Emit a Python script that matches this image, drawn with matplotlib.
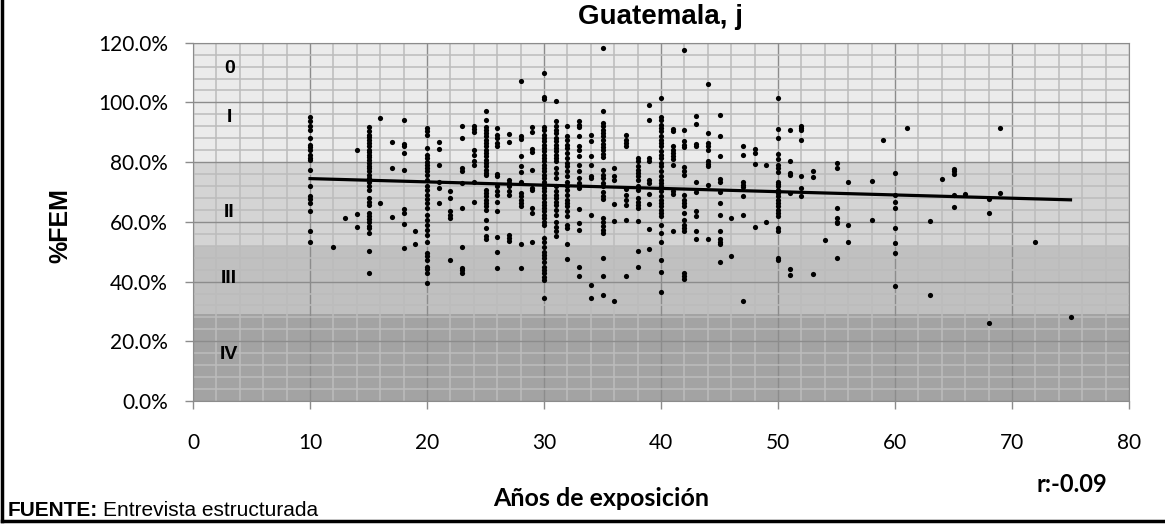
import numpy as np
import matplotlib.pyplot as plt
from matplotlib.ticker import MultipleLocator, FuncFormatter

# %FEM por años de exposición (cada lista = una columna de puntos)
years = [10, 12, 13, 14, 15, 16, 17, 18, 19, 20, 21, 22, 23, 24, 25, 26, 27, 28, 29, 30,
         31, 32, 33, 34, 35, 36, 37, 38, 39, 40, 41, 42, 43, 44, 45, 46, 47, 48, 49, 50,
         51, 52, 53, 54, 55, 56, 58, 59, 60, 61, 63, 64, 65, 66, 68, 69, 72, 75]

fem_10 = [95.0, 93.7, 92.2, 90.9, 88.1, 85.9, 85.1, 84.2, 82.5, 81.4, 80.6, 77.5, 72.1, 68.7, 67.6, 66.3, 63.5, 56.8, 53.1]
fem_12 = [51.5]
fem_13 = [61.2]
fem_14 = [84.2, 62.7, 58.2]
fem_15 = [91.8, 90.3, 89.2, 88.4, 87.5, 86.4, 85.3, 84.2, 83.3, 82.5, 81.7, 80.8, 79.7, 78.8, 78.0, 76.9, 75.8,
          74.7, 73.5, 71.9, 70.7, 67.9, 66.8, 65.7, 62.9, 62.0, 60.9, 59.8, 58.7, 57.9, 56.2, 50.4, 43.0]
fem_16 = [94.8, 66.3]
fem_17 = [86.7, 78.2, 61.5]
fem_18 = [94.2, 86.1, 85.3, 83.1, 77.5, 64.3, 63.1, 59.2, 51.2]
fem_19 = [56.8, 52.6]
fem_20 = [91.4, 90.3, 89.2, 84.7, 82.5, 81.4, 80.2, 79.1, 78.0, 76.9, 75.8, 74.1, 71.9, 70.7, 69.1, 67.6,
          66.3, 64.6, 62.4, 60.7, 59.0, 57.3, 55.6, 53.1, 49.5, 48.4, 47.3, 45.0, 44.1, 42.8, 39.4]
fem_21 = [86.6, 84.4, 79.1, 73.5, 71.3, 66.3]
fem_22 = [70.2, 68.0, 63.5, 62.4, 61.2, 47.3]
fem_23 = [92.2, 88.0, 78.0, 76.9, 73.0, 64.6, 51.5, 44.7, 43.9, 43.0]
fem_24 = [92.2, 91.1, 90.0, 84.2, 82.5, 80.3, 79.1, 73.5, 66.5]
fem_25 = [97.0, 94.0, 91.8, 90.9, 89.8, 88.7, 87.5, 86.4, 85.3, 84.2, 83.1, 81.9, 80.8, 79.7, 78.6, 77.5,
          76.4, 75.8, 70.7, 69.6, 68.5, 67.4, 66.3, 65.2, 64.0, 60.7, 57.9, 55.1, 54.2]
fem_26 = [91.4, 89.2, 88.1, 86.4, 85.3, 76.1, 75.2, 71.9, 70.2, 69.1, 66.8, 63.8, 54.9, 50.0, 44.4]
fem_27 = [89.4, 86.6, 74.1, 73.0, 71.9, 70.2, 69.1, 55.6, 54.5, 53.7]
fem_28 = [107.1, 88.9, 87.8, 82.2, 78.8, 76.6, 73.2, 69.6, 68.5, 67.4, 66.3, 65.2, 52.6, 44.4]
fem_29 = [91.8, 90.0, 84.4, 83.3, 77.5, 71.3, 70.5, 64.6, 63.1, 53.4]
fem_30 = [109.7, 101.9, 101.0, 91.8, 90.9, 89.2, 88.1, 87.0, 85.9, 84.7, 83.6, 82.5, 81.4, 80.3, 79.1, 78.0,
          76.9, 75.8, 74.7, 73.5, 72.4, 71.3, 70.2, 69.1, 67.9, 66.8, 65.7, 64.6, 63.5, 62.4, 61.2, 60.1,
          59.0, 54.5, 53.4, 51.7, 50.0, 48.9, 47.8, 46.7, 45.0, 43.9, 42.8, 41.4, 40.5, 34.4]
fem_31 = [100.6, 93.7, 92.0, 90.9, 89.8, 88.1, 87.0, 85.9, 84.7, 83.6, 82.5, 81.4, 80.3, 78.0, 76.4, 74.7,
          71.9, 70.2, 69.1, 67.9, 66.8, 65.7, 64.0, 62.4, 60.1, 58.2, 56.8, 55.3]
fem_32 = [92.2, 88.7, 87.5, 85.9, 84.7, 83.1, 81.4, 79.7, 78.6, 76.9, 75.2, 73.5, 71.9, 70.7, 69.1, 67.4,
          66.3, 65.2, 63.5, 61.8, 59.0, 57.9, 52.6, 47.7]
fem_33 = [93.7, 92.6, 91.8, 88.9, 85.3, 84.2, 81.9, 79.1, 76.9, 74.7, 73.0, 71.3, 64.3, 59.6, 57.3, 45.0, 41.7]
fem_34 = [89.0, 87.0, 82.2, 79.1, 75.4, 74.7, 62.4, 38.9, 34.4]
fem_35 = [118.3, 97.0, 93.1, 92.0, 90.9, 89.8, 88.7, 87.5, 86.2, 85.1, 83.9, 82.8, 81.7, 77.5, 75.8, 74.7,
          73.0, 71.9, 69.9, 68.7, 67.6, 61.2, 59.8, 58.5, 57.3, 56.2, 47.8, 41.7, 35.5]
fem_36 = [78.0, 75.2, 74.1, 66.0, 60.4, 33.6]
fem_37 = [89.2, 87.5, 86.4, 85.5, 71.0, 69.1, 67.4, 65.7, 60.7, 41.7]
fem_38 = [81.4, 80.3, 78.6, 77.5, 76.4, 75.2, 74.1, 71.9, 70.7, 67.9, 66.8, 65.7, 64.6, 60.3, 50.4, 45.0]
fem_39 = [99.0, 94.2, 81.4, 80.3, 74.1, 73.0, 69.4, 66.0, 57.5, 50.8]
fem_40 = [101.5, 95.1, 94.0, 92.6, 91.4, 90.3, 88.7, 87.5, 86.4, 85.3, 83.6, 82.5, 81.4, 79.7, 78.6, 76.9,
          75.2, 74.1, 73.0, 71.9, 70.2, 68.5, 67.4, 66.3, 65.2, 64.0, 62.9, 61.8, 59.0, 56.2, 53.4, 47.3,
          43.3, 36.6]
fem_41 = [91.1, 90.3, 85.3, 84.2, 83.1, 81.9, 81.1, 79.1, 70.2, 69.4, 56.8]
fem_42 = [117.5, 90.7, 87.0, 85.9, 85.1, 78.4, 76.9, 75.8, 69.1, 67.4, 66.3, 65.2, 62.9, 60.7, 59.0, 57.9,
          57.1, 43.0, 41.9, 40.8]
fem_43 = [95.6, 92.9, 86.2, 85.5, 73.2, 69.9, 63.5, 62.0, 56.8, 54.2]
fem_44 = [106.3, 89.8, 86.4, 85.3, 84.2, 80.3, 79.5, 78.6, 72.4, 54.3]
fem_45 = [95.9, 88.7, 82.2, 74.3, 73.5, 69.9, 66.3, 62.4, 57.1, 54.2, 53.4, 52.6, 46.4]
fem_46 = [61.2, 48.6]
fem_47 = [85.5, 82.5, 73.2, 72.4, 71.6, 68.5, 62.4, 33.5]
fem_48 = [84.4, 83.1, 79.5, 58.2]
fem_49 = [78.9, 60.1]
fem_50 = [101.5, 91.1, 88.1, 82.8, 81.0, 79.1, 78.0, 76.6, 73.5, 72.8, 71.9, 70.7, 69.6, 68.5, 67.4, 66.3,
          65.2, 64.0, 62.9, 61.8, 57.9, 56.8, 47.8, 47.3]
fem_51 = [90.9, 80.5, 76.3, 75.8, 69.6, 44.1, 42.2]
fem_52 = [92.2, 91.4, 90.9, 87.3, 75.2, 71.3, 68.5]
fem_53 = [76.9, 75.0, 42.4]
fem_54 = [53.9]
fem_55 = [79.7, 78.0, 64.6, 61.2, 60.1, 59.6, 47.8]
fem_56 = [73.2, 59.0, 53.4]
fem_58 = [73.8, 60.7]
fem_59 = [87.3]
fem_60 = [76.3, 69.1, 66.8, 64.6, 57.9, 52.9, 49.7, 38.6]
fem_61 = [91.4]
fem_63 = [60.4, 35.4]
fem_64 = [74.4]
fem_65 = [77.7, 76.9, 76.1, 69.1, 64.9]
fem_66 = [69.4]
fem_68 = [67.6, 63.1, 26.2]
fem_69 = [91.4, 69.6]
fem_72 = [53.1]
fem_75 = [28.0]

columns = [fem_10, fem_12, fem_13, fem_14, fem_15, fem_16, fem_17, fem_18, fem_19, fem_20, fem_21, fem_22,
           fem_23, fem_24, fem_25, fem_26, fem_27, fem_28, fem_29, fem_30, fem_31, fem_32, fem_33, fem_34,
           fem_35, fem_36, fem_37, fem_38, fem_39, fem_40, fem_41, fem_42, fem_43, fem_44, fem_45, fem_46,
           fem_47, fem_48, fem_49, fem_50, fem_51, fem_52, fem_53, fem_54, fem_55, fem_56, fem_58, fem_59,
           fem_60, fem_61, fem_63, fem_64, fem_65, fem_66, fem_68, fem_69, fem_72, fem_75]

# bandas de clasificación (límites en %)
band_names = ['0', 'I', 'II', 'III', 'IV']
band_top = [120, 100, 80, 52, 29]
band_bottom = [100, 80, 52, 29, 0]
band_colors = ['#ebebeb', '#ebebeb', '#d4d4d4', '#c0c0c0', '#a3a3a3']
band_label_y = [111.5, 95, 63, 41, 15.5]

r_text = 'r:-0.09'

x = np.concatenate([[yr] * len(c) for yr, c in zip(years, columns)])
y = np.concatenate(columns)

fig = plt.figure(figsize=(11.65, 5.25), dpi=100)
ax = fig.add_axes([193 / 1165, 1 - 401 / 525, (1129 - 193) / 1165, (401 - 42.7) / 525])

for top, bot, col in zip(band_top, band_bottom, band_colors):
    ax.axhspan(bot, top, color=col, lw=0, zorder=0)

ax.xaxis.set_minor_locator(MultipleLocator(2))
ax.yaxis.set_minor_locator(MultipleLocator(4))
ax.xaxis.set_major_locator(MultipleLocator(10))
ax.yaxis.set_major_locator(MultipleLocator(20))
ax.grid(which='minor', color='#bcbcbc', lw=1.1, zorder=1)
ax.grid(which='major', color='#8c8c8c', lw=1.0, zorder=1)
ax.set_axisbelow(True)

for name, ly in zip(band_names, band_label_y):
    ax.text(3.1, ly, name, ha='center', va='center', fontsize=14, fontweight='bold',
            family='Liberation Sans', zorder=3)

ax.scatter(x, y, s=14, color='black', lw=0, zorder=4)

m, b = np.polyfit(x, y, 1)
xs = np.array([x.min(), x.max()])
ax.plot(xs, m * xs + b, color='black', lw=2.3, zorder=5)

ax.set_xlim(0, 80)
ax.set_ylim(0, 120)
ax.yaxis.set_major_formatter(FuncFormatter(lambda v, p: f'{v:.1f}%'))
ax.tick_params(which='major', length=6, width=1, color='#8c8c8c', labelsize=15)
ax.tick_params(which='minor', length=0)
ax.tick_params(axis='y', pad=12)
ax.tick_params(axis='x', pad=17)
for lab in ax.get_xticklabels() + ax.get_yticklabels():
    lab.set_family('Lato')
for s in ax.spines.values():
    s.set_color('#8c8c8c')

fig.text(60 / 1165, 1 - 226 / 525, '%FEM', rotation=90, ha='center', va='center', fontsize=18,
         fontweight='bold', family='Liberation Sans')
fig.text(661 / 1165, 1 - 17 / 525, 'Guatemala, j', ha='center', va='center', fontsize=20,
         fontweight='bold', family='Liberation Sans')
fig.text(601 / 1165, 1 - 498 / 525, 'Años de exposición', ha='center', va='center', fontsize=18,
         fontweight='bold', family='Lato')
fig.text(1072 / 1165, 1 - 484 / 525, r_text, ha='center', va='center', fontsize=17,
         fontweight='bold', family='Lato')
t1 = fig.text(8 / 1165, 1 - 511 / 525, 'FUENTE:', ha='left', va='center', fontsize=15,
              fontweight='bold', family='Liberation Sans')
fig.canvas.draw()
bb = t1.get_window_extent()
fig.text((bb.x1 + 5) / 1165, 1 - 511 / 525, 'Entrevista estructurada', ha='left', va='center',
         fontsize=15, family='Liberation Sans')

# marco de la figura
fig.add_artist(plt.Line2D([0.002, 0.002], [0.007, 1], color='black', lw=2.5, transform=fig.transFigure))
fig.add_artist(plt.Line2D([0.002, 1], [0.007, 0.007], color='black', lw=2.5, transform=fig.transFigure))

plt.savefig('out.png')
